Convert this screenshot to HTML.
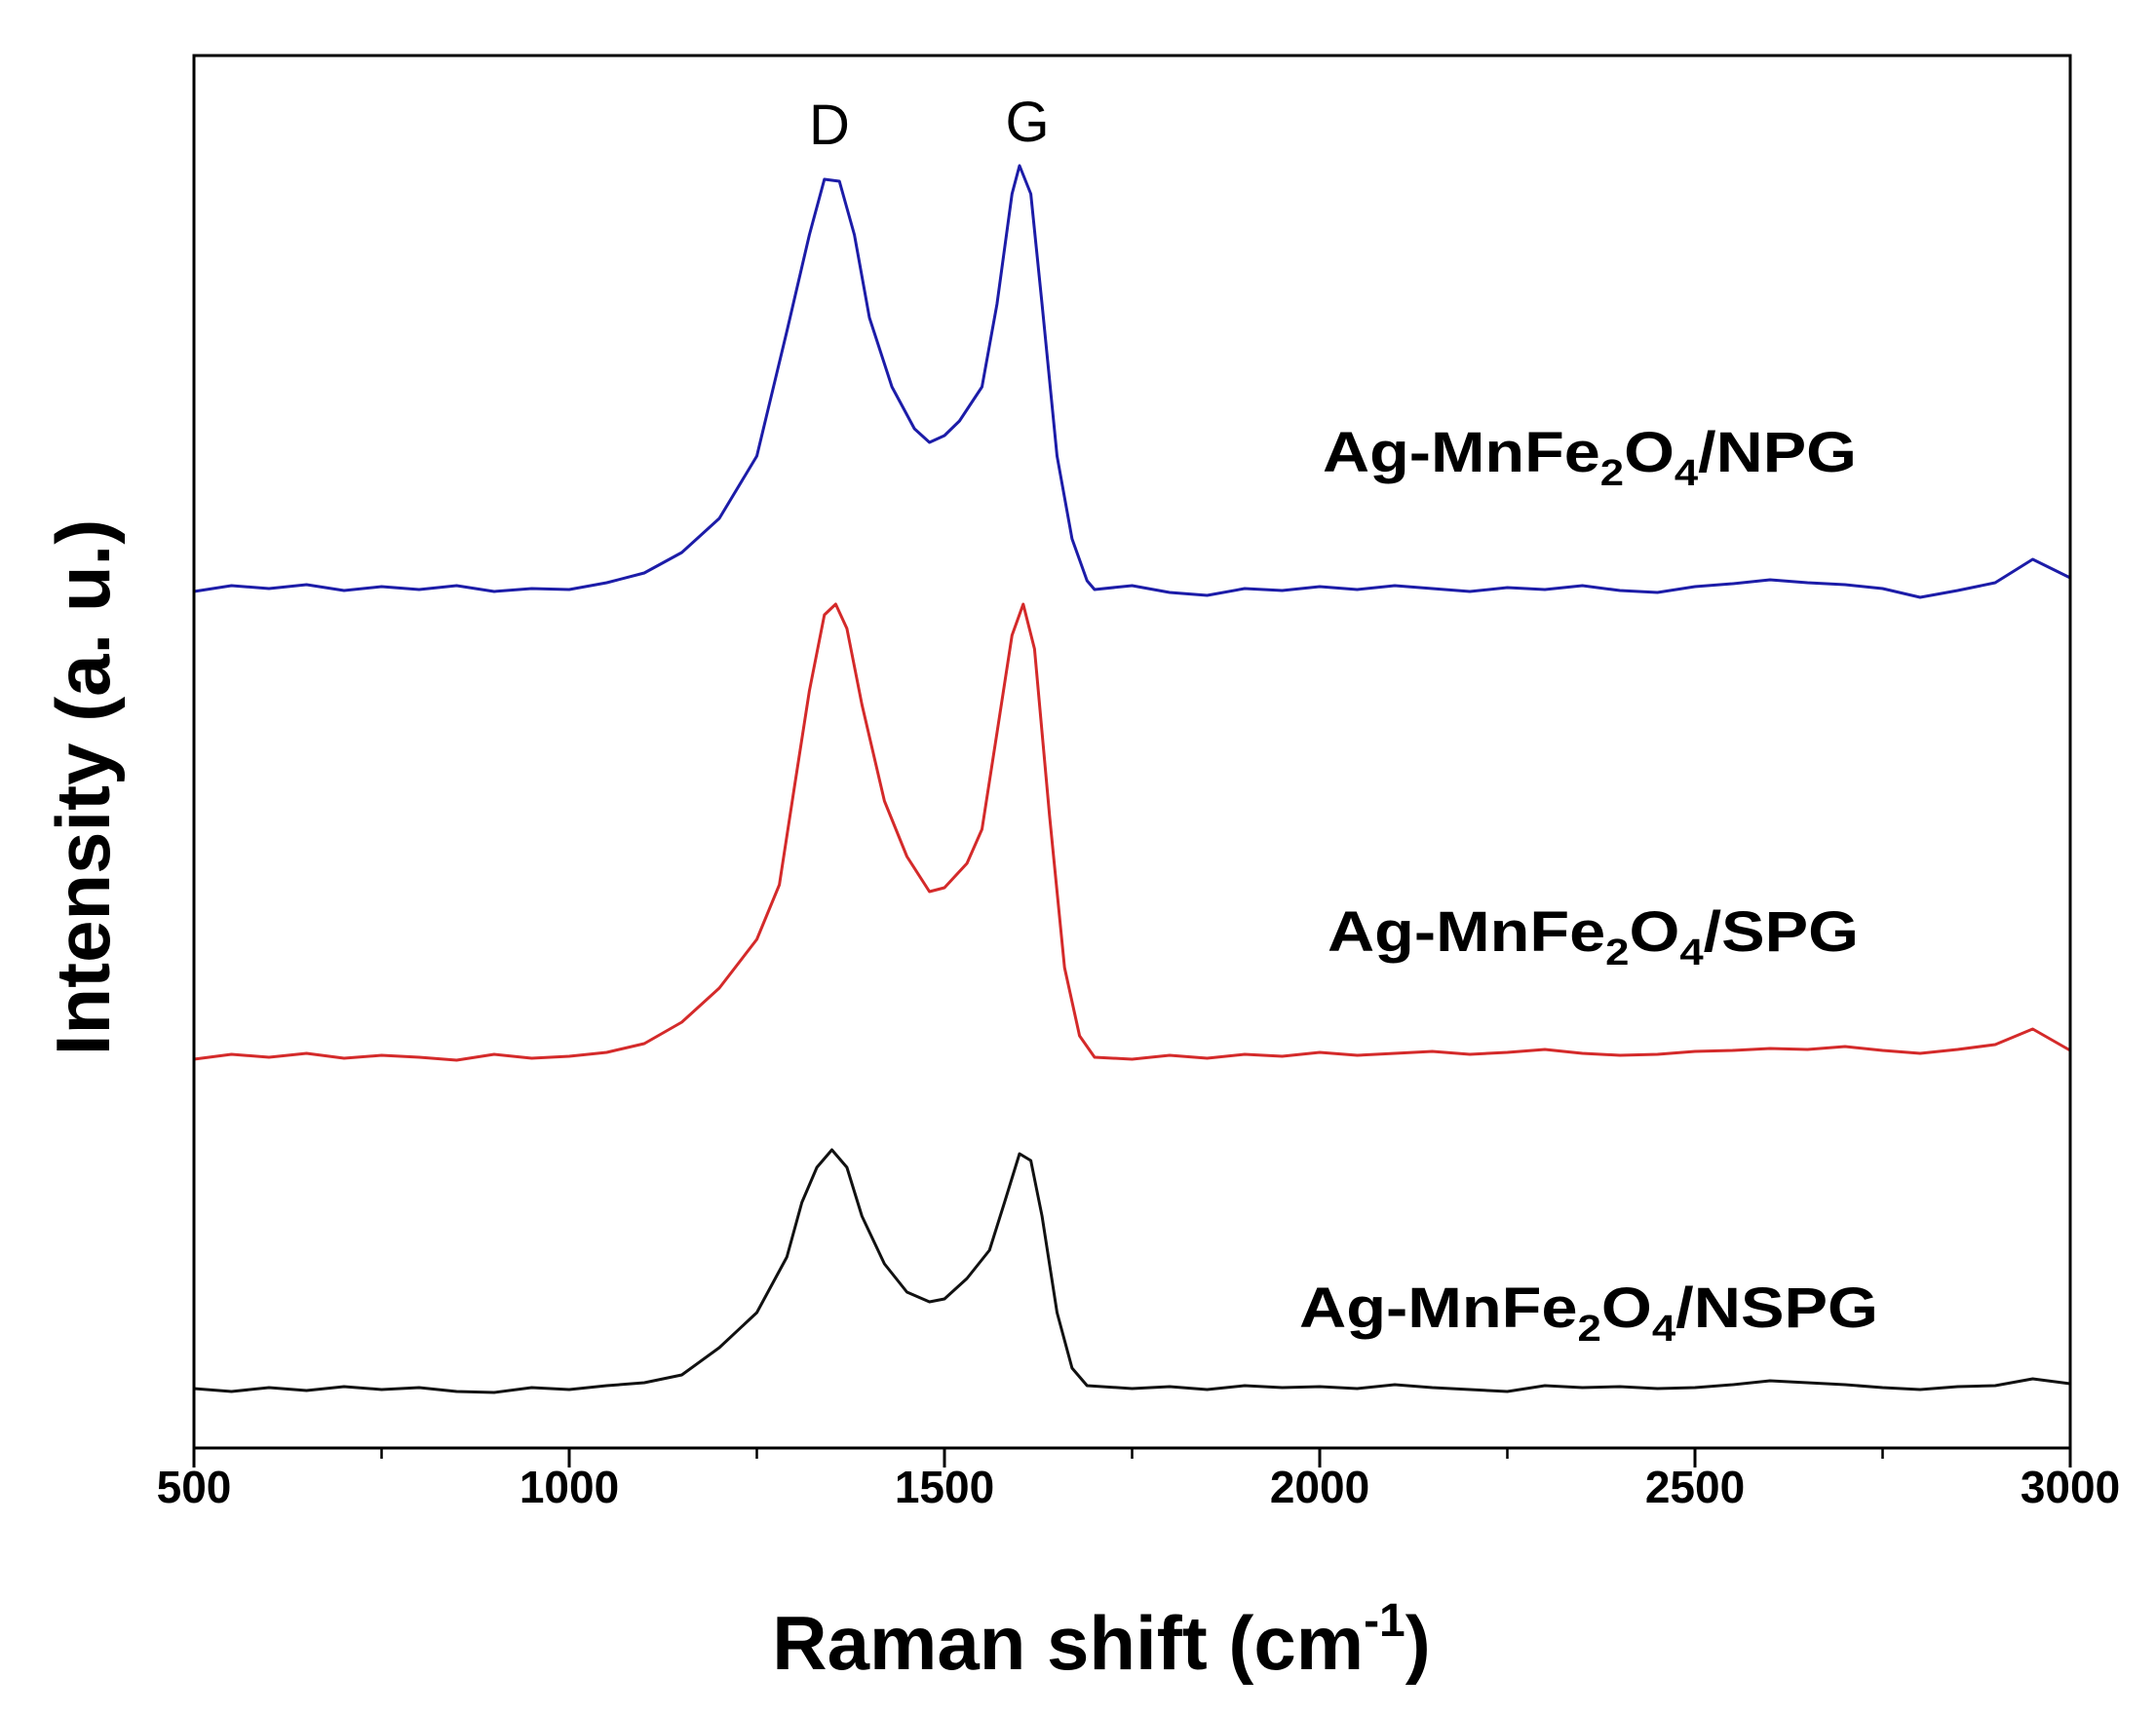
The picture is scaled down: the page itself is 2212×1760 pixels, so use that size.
<!DOCTYPE html>
<html><head><meta charset="utf-8"><style>
html,body{margin:0;padding:0;background:#fff;}
svg{display:block;font-family:"Liberation Sans",Arial,sans-serif;}
</style></head><body>
<svg id="chart" width="2212" height="1760" viewBox="0 0 2212 1760" xmlns="http://www.w3.org/2000/svg">
<g id="plot"></g>
<g id="axes"></g>
<text x="851" y="148" font-size="58" text-anchor="middle">D</text>
<text x="1054" y="145" font-size="58" text-anchor="middle">G</text>
<text x="1357" y="484" font-size="58" font-weight="bold" textLength="548" lengthAdjust="spacingAndGlyphs">Ag-MnFe<tspan font-size="38" dy="14">2</tspan><tspan dy="-14">O</tspan><tspan font-size="38" dy="14">4</tspan><tspan dy="-14">/NPG</tspan></text>
<text x="1362" y="976" font-size="58" font-weight="bold" textLength="545" lengthAdjust="spacingAndGlyphs">Ag-MnFe<tspan font-size="38" dy="14">2</tspan><tspan dy="-14">O</tspan><tspan font-size="38" dy="14">4</tspan><tspan dy="-14">/SPG</tspan></text>
<text x="1333" y="1362" font-size="58" font-weight="bold" textLength="594" lengthAdjust="spacingAndGlyphs">Ag-MnFe<tspan font-size="38" dy="14">2</tspan><tspan dy="-14">O</tspan><tspan font-size="38" dy="14">4</tspan><tspan dy="-14">/NSPG</tspan></text>
<text x="1130" y="1713" font-size="78" font-weight="bold" text-anchor="middle">Raman shift (cm<tspan font-size="48" dy="-34">-1</tspan><tspan dy="34">)</tspan></text>
<text transform="translate(112,808) rotate(-90)" font-size="78" font-weight="bold" text-anchor="middle">Intensity (a. u.)</text>
</svg>
<script>
const xTicks=[500,1000,1500,2000,2500,3000];
const xTickLabels=["500","1000","1500","2000","2500","3000"];
const xMinor=[750,1250,1750,2250,2750];
const npgX=[500,550,600,650,700,750,800,850,900,950,1000,1050,1100,1150,1200,1250,1290,1320,1340,1360,1380,1400,1430,1460,1480,1500,1520,1550,1570,1590,1600,1615,1630,1650,1670,1690,1700,1750,1800,1850,1900,1950,2000,2050,2100,2150,2200,2250,2300,2350,2400,2450,2500,2550,2600,2650,2700,2750,2800,2850,2900,2950,3000];
const npgY=[88.3,88.9,88.6,89.0,88.4,88.8,88.5,88.9,88.3,88.6,88.5,89.2,90.2,92.3,95.8,102.2,115.0,124.9,130.6,130.4,124.9,116.4,109.3,105.0,103.6,104.3,105.8,109.3,117.8,129.1,132.0,129.1,117.8,102.2,93.7,89.4,88.5,88.9,88.2,87.9,88.6,88.4,88.8,88.5,88.9,88.6,88.3,88.7,88.5,88.9,88.4,88.2,88.8,89.1,89.5,89.2,89.0,88.6,87.7,88.4,89.2,91.6,89.7];
const spgX=[500,550,600,650,700,750,800,850,900,950,1000,1050,1100,1150,1200,1250,1280,1300,1320,1340,1355,1370,1390,1420,1450,1480,1500,1530,1550,1570,1590,1605,1620,1640,1660,1680,1700,1750,1800,1850,1900,1950,2000,2050,2100,2150,2200,2250,2300,2350,2400,2450,2500,2550,2600,2650,2700,2750,2800,2850,2900,2950,3000];
const spgY=[40.3,40.8,40.5,40.9,40.4,40.7,40.5,40.2,40.8,40.4,40.6,41.0,41.9,44.1,47.6,52.6,58.2,68.2,78.1,85.9,87.0,84.5,76.7,66.8,61.1,57.5,57.9,60.4,63.9,73.8,83.8,87.0,82.4,65.3,49.7,42.7,40.5,40.3,40.7,40.4,40.8,40.6,41.0,40.7,40.9,41.1,40.8,41.0,41.3,40.9,40.7,40.8,41.1,41.2,41.4,41.3,41.6,41.2,40.9,41.3,41.8,43.4,41.2];
const nspgX=[500,550,600,650,700,750,800,850,900,950,1000,1050,1100,1150,1200,1250,1290,1310,1330,1350,1370,1390,1420,1450,1480,1500,1530,1560,1580,1600,1615,1630,1650,1670,1690,1750,1800,1850,1900,1950,2000,2050,2100,2150,2200,2250,2300,2350,2400,2450,2500,2550,2600,2650,2700,2750,2800,2850,2900,2950,3000];
const nspgY=[6.5,6.2,6.6,6.3,6.7,6.4,6.6,6.2,6.1,6.6,6.4,6.8,7.1,7.9,10.7,14.3,20.0,25.6,29.2,31.0,29.2,24.2,19.3,16.4,15.4,15.7,17.8,20.7,25.6,30.6,29.9,24.2,14.3,8.6,6.8,6.5,6.7,6.4,6.8,6.6,6.7,6.5,6.9,6.6,6.4,6.2,6.8,6.6,6.7,6.5,6.6,6.9,7.3,7.1,6.9,6.6,6.4,6.7,6.8,7.5,7.0];
const L=199,R=2124,T=57,B=1486;
const xs=v=>L+(v-500)/(3000-500)*(R-L);
const ys=v=>1490-v/143.3*(1490-T);
const NS="http://www.w3.org/2000/svg";
const plot=document.getElementById('plot'),axes=document.getElementById('axes');
function mk(tag,attrs,parent){const e=document.createElementNS(NS,tag);for(const k in attrs)e.setAttribute(k,attrs[k]);parent.appendChild(e);return e;}
function series(xa,ya,color,name){
  const d=xa.map((x,i)=>(i?'L':'M')+xs(x).toFixed(1)+','+ys(ya[i]).toFixed(1)).join(' ');
  const p=mk('path',{d:d,fill:'none',stroke:color,'stroke-width':3,'stroke-linejoin':'round'},plot);
  
  
}
series(npgX,npgY,'#1c1ca8','series-npg-line');
series(spgX,spgY,'#d42a2a','series-spg-line');
series(nspgX,nspgY,'#111','series-nspg-line');
const frame=mk('rect',{x:L,y:T,width:R-L,height:B-T,fill:'none',stroke:'#000','stroke-width':3},axes);


xTicks.forEach((t,i)=>{
  const ln=mk('line',{x1:xs(t),x2:xs(t),y1:B,y2:B+20,stroke:'#000','stroke-width':3},axes);
  
  
  const tx=mk('text',{x:xs(t),y:1542,'font-size':46,'font-weight':'bold','text-anchor':'middle'},axes);
  tx.textContent=xTickLabels[i];
  
  
});
xMinor.forEach(t=>{
  const ln=mk('line',{x1:xs(t),x2:xs(t),y1:B,y2:B+11,stroke:'#000','stroke-width':2.5},axes);
  
  
});
</script>
</body></html>
